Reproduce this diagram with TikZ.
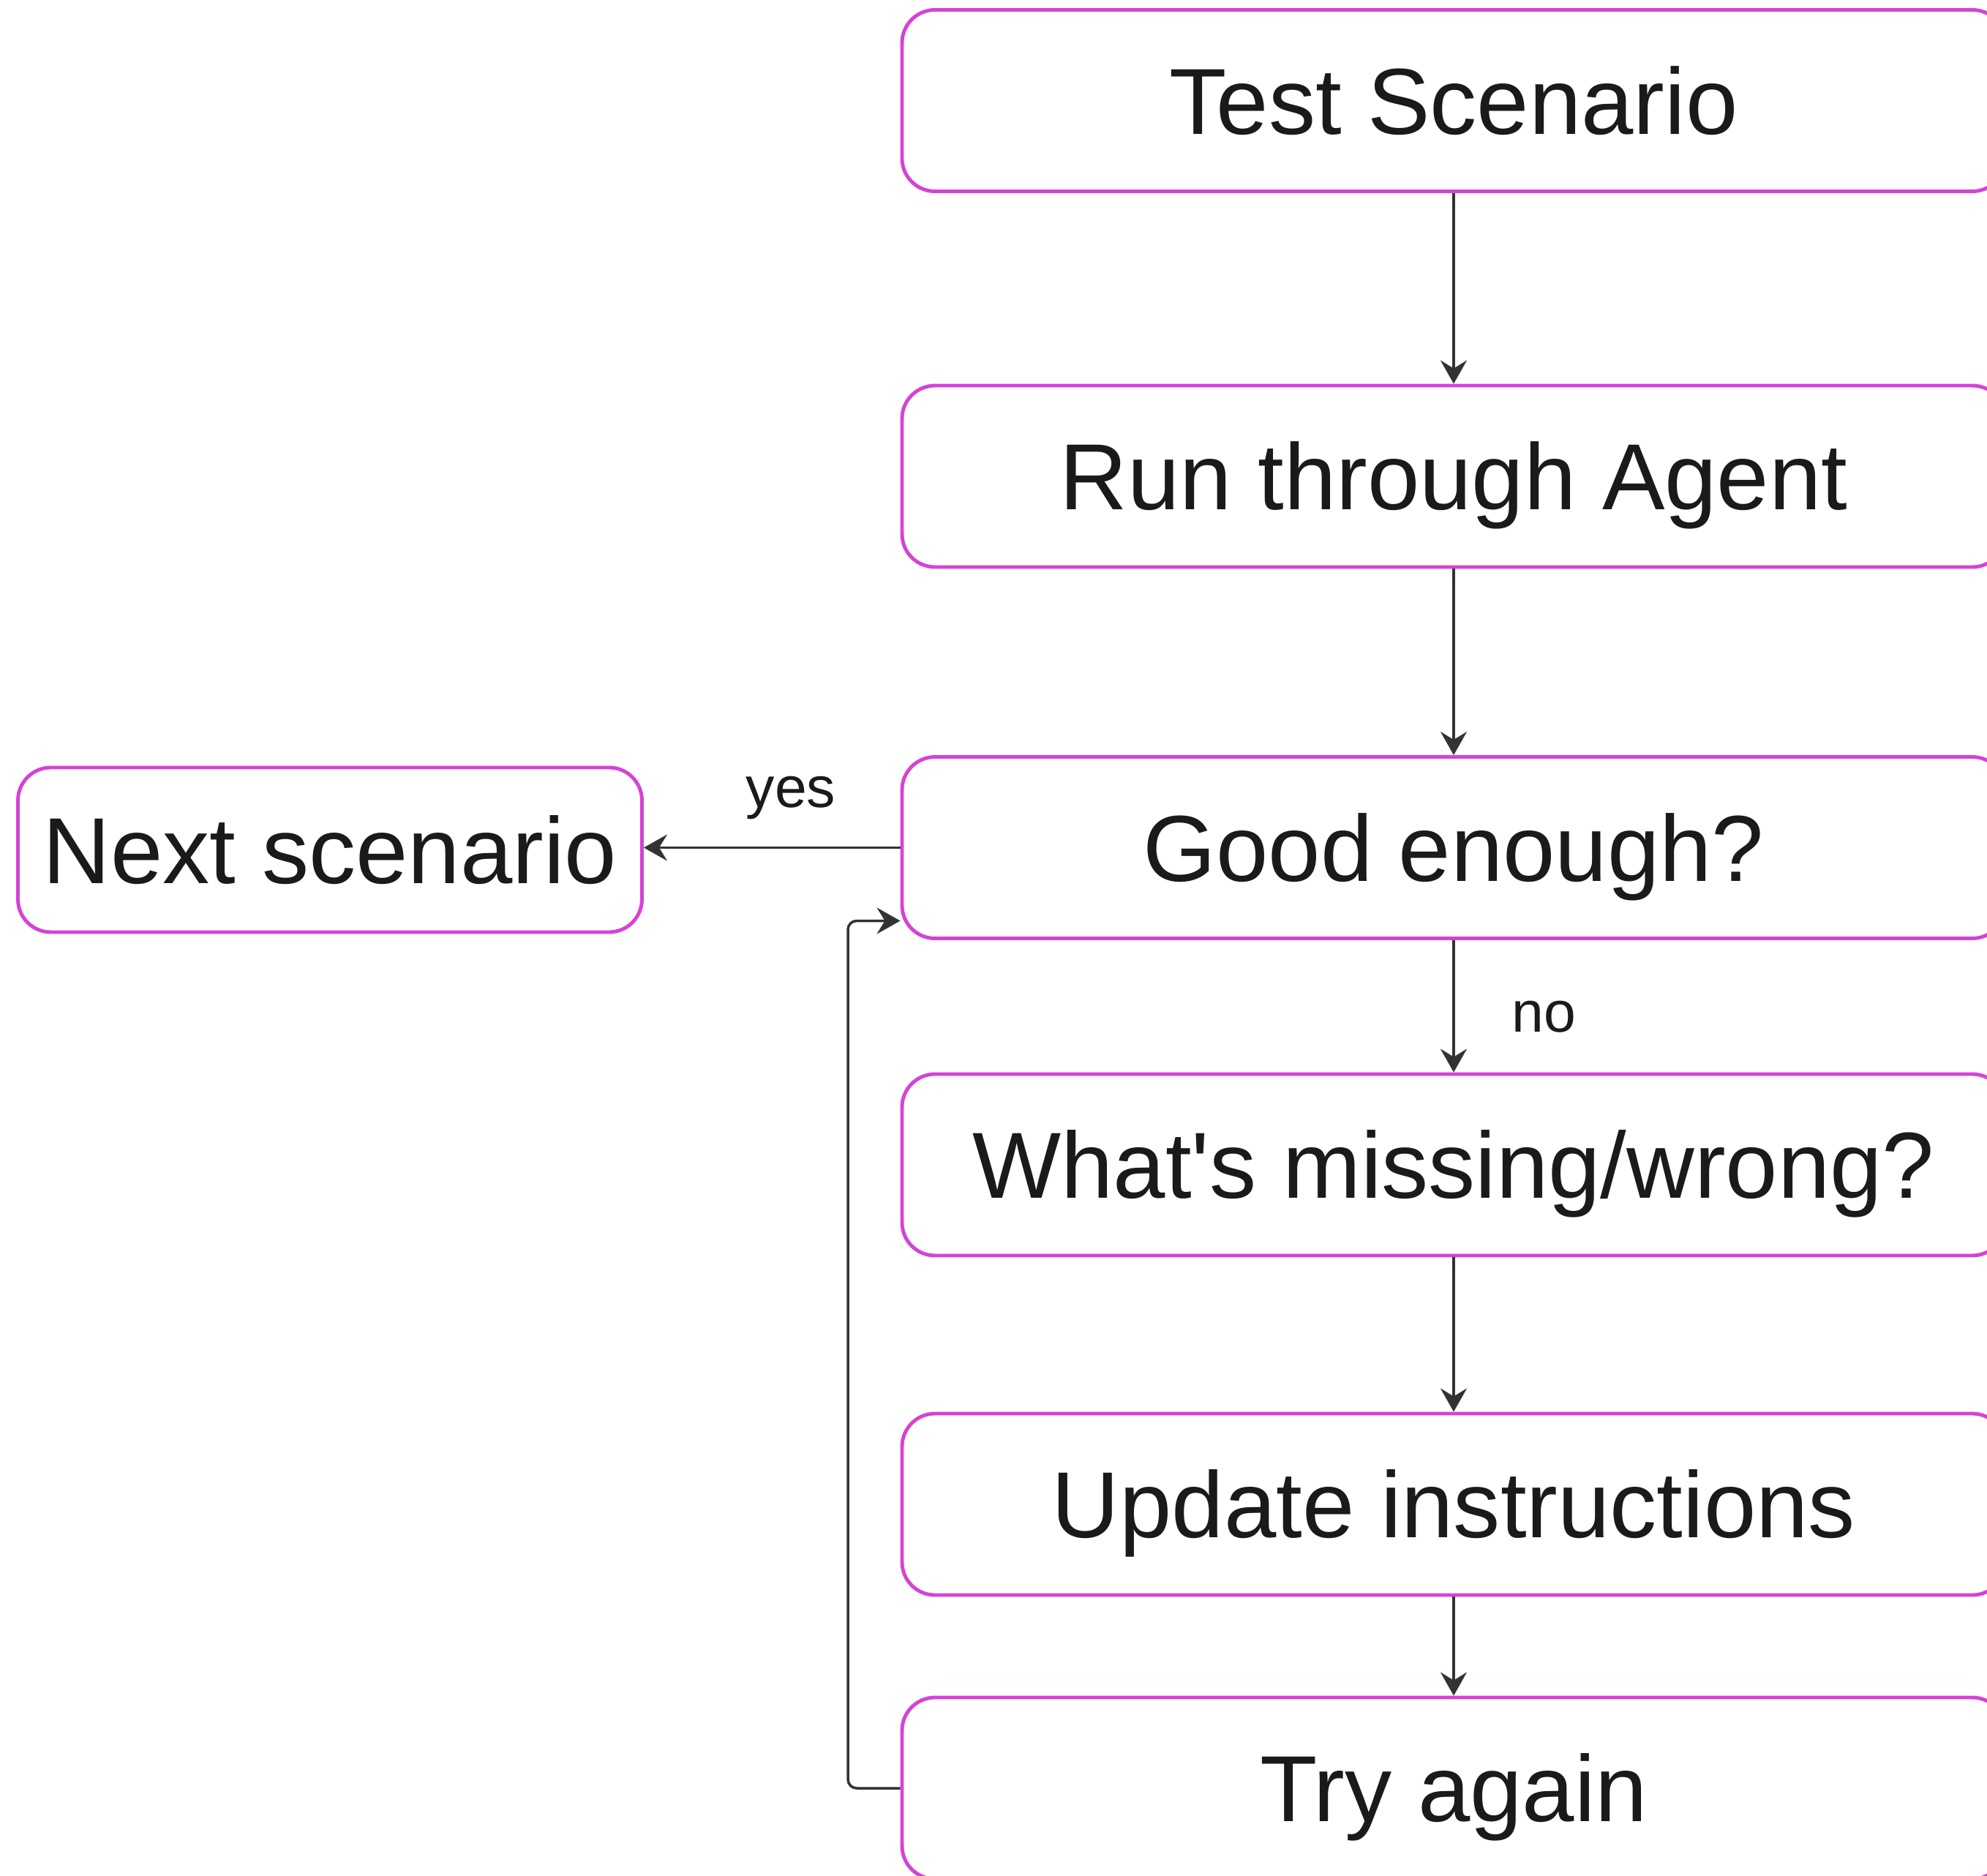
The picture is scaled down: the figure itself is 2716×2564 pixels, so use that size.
\documentclass[tikz,border=0pt]{standalone}
\usepackage{fontspec}
\setmainfont{Liberation Sans}[Ligatures=TeXOff]
\usetikzlibrary{arrows.meta,calc}
\definecolor{boxc}{RGB}{214,66,214}
\definecolor{linec}{RGB}{51,51,51}
\definecolor{txtc}{RGB}{26,26,26}
\begin{document}
\begin{tikzpicture}[x=0.1mm,y=-0.1mm,
  box/.style={draw=boxc, line width=1.4pt, rounded corners=4.5mm, fill=white,
    text=txtc, font=\fontsize{36.5}{44}\selectfont, inner sep=0pt,
    minimum width=150.8mm, minimum height=24.8mm, text height=26.1pt, text depth=0pt},
  arr/.style={draw=linec, line width=1pt, -{Stealth[length=3.2mm,width=3.6mm,inset=1.1mm]}},
  lab/.style={text=txtc, font=\fontsize{22.4}{27}\selectfont, inner sep=0pt, anchor=base}]
\useasboundingbox (0,0) rectangle (2716,2564);
\fill[white] (0,0) rectangle (2716,2564);
\node[box] (ts) at (1987,137.5) {Test Scenario};
\node[box] (run) at (1987,651) {Run through Agent};
\node[box] (good) at (1987,1158.5) {Good enough?};
\node[box] (what) at (1987,1592) {What's missing/wrong?};
\node[box] (upd) at (1987,2056) {Update instructions};
\node[box] (try) at (1987,2444) {Try again};
\node[box, minimum width=85.3mm, minimum height=22.5mm] (ns) at (451,1161.5) {Next scenario};
\node[lab] (yes) at (1081,1103) {yes};
\node[lab] (no) at (2110,1410) {no};
\coordinate (lx) at (1159,0);
\draw[arr] (ts) -- (run);
\draw[arr] (run) -- (good);
\draw[arr] (good) -- (what);
\draw[arr] (what) -- (upd);
\draw[arr] (upd) -- (try);
\draw[arr] (good.west) -- (good.west -| ns.east);
\draw[arr, rounded corners=1.2mm] (try.west) -- (try.west -| lx) |- ($(good.west)+(0,100)$);
\end{tikzpicture}
\end{document}
